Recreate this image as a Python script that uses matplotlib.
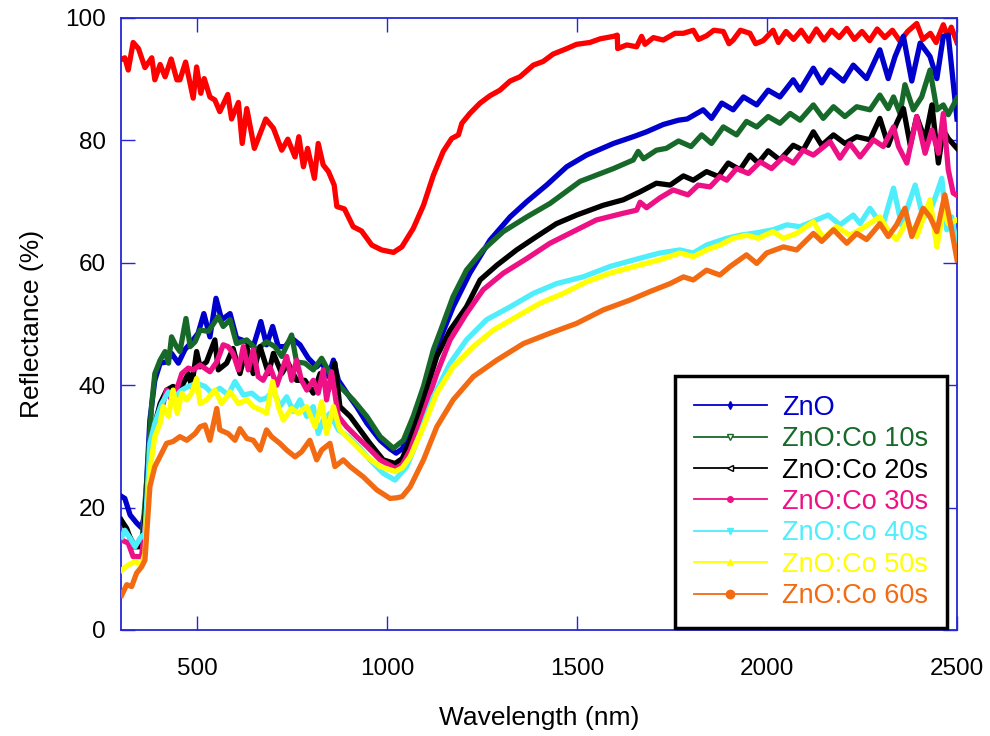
import matplotlib
matplotlib.use("Agg")
import matplotlib.pyplot as plt
from matplotlib.lines import Line2D

plt.rcParams['font.family'] = ['Liberation Sans', 'DejaVu Sans']

# ---------------- data (wavelength nm, reflectance %) ----------------
red_wl = [297, 310, 319, 332, 346, 363, 381, 389, 403, 416, 432, 447, 455, 470, 490, 499, 510, 519,
          534, 547, 560, 581, 591, 609, 619, 631, 651, 681, 701, 723, 739, 758, 768, 780, 791, 809,
          819, 832, 846, 861, 868, 888, 911, 933, 960, 986, 1017, 1039, 1069, 1096, 1122, 1148, 1170,
          1188, 1197, 1218, 1245, 1271, 1297, 1324, 1350, 1385, 1411, 1437, 1473, 1499, 1534, 1561,
          1596, 1606, 1607, 1631, 1657, 1670, 1679, 1701, 1727, 1758, 1780, 1806, 1820, 1841, 1860,
          1885, 1900, 1911, 1930, 1955, 1970, 1990, 2016, 2030, 2050, 2070, 2090, 2110, 2130, 2150,
          2170, 2190, 2210, 2230, 2250, 2270, 2290, 2310, 2330, 2350, 2370, 2394, 2410, 2430, 2445,
          2464, 2475, 2485, 2500]
red_r = [93.1, 93.5, 91.5, 96.0, 95.0, 91.9, 93.5, 89.9, 92.4, 90.4, 93.3, 89.9, 89.9, 92.8, 86.9,
         92.0, 87.7, 90.1, 87.1, 86.6, 84.7, 87.5, 83.5, 86.2, 79.5, 85.2, 78.7, 83.5, 82.0, 78.4,
         80.2, 77.3, 80.6, 75.7, 78.7, 73.8, 79.5, 76.0, 74.9, 72.7, 69.2, 68.8, 65.9, 65.2, 62.9,
         62.1, 61.7, 62.6, 65.6, 69.4, 74.3, 78.2, 80.3, 80.9, 82.8, 84.4, 86.1, 87.3, 88.2, 89.7,
         90.4, 92.3, 92.9, 94.1, 95.0, 95.7, 96.0, 96.6, 97.0, 97.2, 95.0, 95.6, 95.3, 97.0, 95.7,
         96.8, 96.4, 97.5, 97.5, 98.0, 96.5, 97.1, 98.0, 97.8, 95.8, 96.4, 98.0, 97.5, 95.8, 96.3,
         98.0, 96.0, 97.8, 96.5, 98.0, 96.2, 98.2, 96.4, 98.0, 96.8, 98.3, 96.5, 97.8, 96.3, 98.2,
         96.8, 98.0, 96.2, 97.8, 99.1, 96.5, 97.5, 96.0, 98.9, 97.0, 98.5, 96.0]

zno_wl = [302, 310, 324, 341, 354, 363, 376, 389, 403, 420, 433, 451, 468, 486, 503, 518, 534, 550,
          565, 587, 604, 631, 648, 668, 683, 699, 714, 732, 749, 771, 793, 815, 828, 846, 859, 872,
          898, 920, 947, 982, 1008, 1024, 1040, 1061, 1087, 1113, 1139, 1174, 1218, 1271, 1324, 1368,
          1420, 1473, 1525, 1596, 1648, 1683, 1727, 1767, 1790, 1832, 1854, 1881, 1911, 1938, 1973,
          2003, 2034, 2069, 2087, 2122, 2144, 2166, 2201, 2227, 2262, 2297, 2319, 2337, 2359, 2381,
          2403, 2429, 2447, 2464, 2477, 2500]
zno_r = [21.8, 21.5, 18.8, 17.5, 16.7, 19.1, 34.3, 40.8, 43.6, 43.8, 45.2, 43.6, 45.8, 47.1, 48.5,
         51.7, 47.9, 54.2, 50.7, 51.7, 47.7, 47.1, 46.3, 50.4, 46.6, 49.6, 46.3, 46.3, 47.7, 46.6,
         44.4, 43.0, 43.8, 41.4, 44.1, 40.8, 38.4, 36.5, 33.8, 31.0, 29.6, 28.9, 29.6, 32.1, 36.5,
         41.9, 47.4, 52.8, 58.3, 63.7, 67.5, 70.0, 72.7, 75.7, 77.6, 79.5, 80.6, 81.4, 82.6, 83.3,
         83.5, 85.0, 83.6, 86.1, 85.0, 87.1, 85.8, 88.2, 87.1, 89.9, 88.2, 91.8, 89.4, 91.5, 89.7,
         92.3, 90.1, 94.8, 90.1, 93.7, 97.0, 89.7, 95.9, 93.7, 90.1, 97.0, 97.2, 83.5]

co10_wl = [300, 332, 354, 368, 381, 389, 403, 416, 425, 433, 446, 455, 471, 482, 495, 508, 530, 556,
           569, 587, 604, 631, 657, 683, 705, 723, 749, 762, 784, 806, 828, 850, 876, 911, 947, 982,
           1017, 1043, 1069, 1096, 1122, 1148, 1174, 1209, 1253, 1306, 1368, 1429, 1508, 1596, 1648,
           1661, 1675, 1709, 1735, 1767, 1800, 1828, 1854, 1885, 1920, 1946, 1973, 2003, 2034, 2061,
           2087, 2122, 2148, 2175, 2205, 2236, 2271, 2297, 2319, 2333, 2350, 2363, 2385, 2407, 2429,
           2447, 2464, 2477, 2500]
co10_r = [18.0, 14.2, 13.6, 24.5, 37.0, 41.9, 44.1, 45.5, 43.6, 47.9, 46.3, 45.5, 50.9, 46.3, 47.1,
          49.0, 48.8, 51.2, 49.6, 50.7, 46.8, 47.4, 45.8, 47.1, 46.3, 44.7, 48.2, 43.8, 43.6, 42.5,
          44.4, 41.9, 39.8, 37.6, 34.9, 31.6, 29.7, 31.0, 34.9, 39.8, 45.8, 50.1, 54.5, 58.8, 62.1,
          65.1, 67.5, 69.7, 73.3, 75.4, 76.8, 78.2, 77.0, 78.4, 78.7, 79.9, 79.0, 80.9, 79.5, 82.2,
          80.9, 83.1, 82.2, 83.9, 82.8, 84.4, 83.3, 85.8, 83.6, 85.5, 83.9, 85.5, 85.0, 87.4, 85.2,
          87.1, 84.4, 89.1, 85.0, 87.1, 91.5, 85.0, 85.8, 84.2, 86.9]

co20_wl = [300, 315, 332, 358, 372, 385, 403, 420, 437, 455, 477, 486, 499, 508, 525, 547, 556, 578,
           595, 613, 631, 648, 666, 688, 701, 723, 740, 762, 784, 806, 824, 846, 863, 876, 903, 929,
           955, 990, 1021, 1040, 1061, 1096, 1131, 1166, 1209, 1245, 1289, 1341, 1394, 1446, 1499,
           1569, 1622, 1666, 1709, 1745, 1780, 1806, 1841, 1872, 1898, 1929, 1955, 1977, 2003, 2034,
           2069, 2095, 2122, 2144, 2175, 2205, 2236, 2271, 2297, 2319, 2341, 2359, 2377, 2394, 2416,
           2434, 2451, 2464, 2477, 2500]
co20_r = [18.0, 16.6, 13.6, 13.6, 26.7, 32.7, 37.0, 39.2, 39.8, 39.2, 41.9, 39.8, 45.5, 43.0, 43.8,
          47.4, 42.5, 43.6, 46.0, 41.9, 46.3, 41.9, 46.3, 41.9, 45.2, 41.9, 43.6, 40.8, 40.8, 38.7,
          41.9, 39.2, 43.6, 36.5, 34.9, 32.7, 30.5, 27.8, 27.2, 28.0, 31.0, 37.6, 44.7, 49.0, 52.8,
          57.2, 59.6, 62.1, 64.3, 66.4, 67.8, 69.4, 70.3, 71.6, 73.0, 72.7, 74.2, 73.5, 74.9, 74.1,
          76.3, 75.2, 77.6, 76.3, 78.3, 76.8, 79.2, 78.4, 81.4, 79.2, 80.9, 79.5, 80.6, 80.1, 83.6,
          79.2, 82.8, 85.2, 79.2, 83.9, 80.1, 85.8, 76.3, 81.7, 80.3, 78.7]

co30_wl = [302, 319, 332, 354, 368, 381, 394, 411, 420, 433, 446, 460, 477, 490, 508, 534, 552, 569,
           582, 595, 609, 622, 635, 648, 661, 674, 692, 710, 736, 749, 762, 775, 789, 806, 819, 832,
           841, 854, 872, 894, 920, 947, 982, 1022, 1040, 1061, 1096, 1131, 1166, 1209, 1253, 1306,
           1368, 1429, 1490, 1551, 1622, 1657, 1666, 1683, 1718, 1753, 1792, 1819, 1850, 1876, 1894,
           1920, 1951, 1982, 2012, 2043, 2069, 2095, 2122, 2166, 2192, 2218, 2245, 2280, 2306, 2333,
           2346, 2368, 2394, 2416, 2434, 2451, 2464, 2477, 2490, 2500]
co30_r = [14.7, 14.2, 12.0, 12.0, 19.1, 31.0, 34.3, 37.0, 39.2, 37.6, 39.2, 41.9, 42.8, 42.5, 43.3,
          42.2, 43.8, 46.6, 46.3, 45.2, 42.5, 46.3, 42.5, 45.8, 41.4, 40.8, 43.0, 40.0, 44.7, 40.8,
          44.1, 40.8, 39.2, 40.8, 38.7, 42.5, 37.6, 42.2, 34.9, 33.2, 31.6, 30.0, 27.8, 26.4, 27.0,
          29.4, 35.4, 41.9, 47.4, 51.7, 55.6, 58.3, 60.7, 63.2, 65.1, 67.0, 68.1, 68.6, 69.9, 69.0,
          70.6, 71.9, 71.1, 72.7, 72.4, 74.1, 73.5, 75.4, 74.6, 76.5, 75.4, 77.3, 76.3, 78.4, 77.6,
          79.8, 77.1, 79.5, 77.3, 80.1, 79.0, 82.2, 79.0, 76.3, 83.9, 77.9, 81.7, 77.9, 84.4, 75.2,
          71.4, 71.0]

co40_wl = [302, 310, 324, 337, 350, 363, 376, 389, 407, 425, 442, 460, 477, 499, 521, 539, 560, 582,
           600, 622, 644, 666, 683, 701, 718, 736, 754, 771, 789, 806, 819, 832, 850, 872, 898, 929,
           955, 990, 1021, 1052, 1087, 1122, 1166, 1209, 1262, 1324, 1385, 1446, 1516, 1587, 1657,
           1718, 1771, 1806, 1841, 1894, 1929, 1973, 2016, 2052, 2087, 2130, 2161, 2192, 2227, 2245,
           2271, 2289, 2306, 2333, 2354, 2390, 2411, 2429, 2447, 2460, 2473, 2486, 2500]
co40_r = [15.2, 16.3, 15.0, 13.6, 15.0, 15.8, 30.5, 33.8, 37.0, 38.9, 38.1, 39.2, 39.8, 40.3, 39.8,
          38.7, 39.5, 38.4, 40.6, 38.4, 38.7, 37.6, 37.9, 39.2, 36.5, 38.1, 35.7, 37.6, 34.9, 36.5,
          32.1, 34.3, 35.4, 32.7, 31.6, 29.7, 27.8, 25.6, 24.5, 26.7, 32.1, 38.1, 43.6, 47.4, 50.7,
          52.8, 55.0, 56.6, 57.7, 59.4, 60.6, 61.6, 62.1, 61.6, 62.9, 64.0, 64.5, 64.9, 65.4, 66.2,
          65.9, 67.0, 67.8, 66.2, 67.8, 66.4, 68.9, 67.3, 66.4, 72.2, 66.2, 72.7, 67.3, 68.4, 71.4,
          73.8, 65.4, 67.5, 62.6]

co50_wl = [302, 319, 337, 354, 363, 376, 389, 403, 411, 425, 437, 448, 460, 473, 486, 499, 508, 525,
           547, 565, 587, 609, 631, 648, 670, 683, 699, 714, 727, 749, 767, 789, 811, 828, 841, 859,
           876, 894, 920, 947, 982, 1022, 1040, 1061, 1096, 1131, 1174, 1227, 1280, 1341, 1403, 1464,
           1525, 1587, 1657, 1718, 1771, 1806, 1841, 1876, 1911, 1946, 1977, 2016, 2043, 2078, 2122,
           2148, 2183, 2218, 2245, 2297, 2324, 2341, 2368, 2394, 2429, 2447, 2464, 2477, 2500]
co50_r = [9.8, 10.6, 11.2, 10.6, 12.5, 26.1, 31.6, 33.8, 36.5, 34.9, 39.2, 35.4, 38.7, 37.6, 38.7,
          41.1, 37.0, 37.6, 39.2, 37.0, 38.9, 37.0, 37.6, 36.5, 35.9, 35.4, 40.6, 36.5, 34.3, 36.2,
          35.4, 36.5, 33.2, 37.3, 32.1, 36.5, 32.7, 31.6, 30.0, 28.3, 26.7, 25.9, 26.5, 28.3, 33.2,
          38.7, 43.0, 46.3, 49.0, 51.2, 53.4, 55.0, 56.9, 58.3, 59.5, 60.5, 61.6, 61.0, 62.1, 62.9,
          64.0, 64.5, 64.0, 65.1, 64.0, 64.8, 66.7, 64.0, 65.9, 64.5, 65.4, 67.5, 64.8, 63.8, 66.7,
          64.3, 70.3, 62.6, 68.6, 66.4, 67.0]

co60_wl = [302, 315, 328, 341, 354, 363, 376, 389, 407, 420, 437, 455, 473, 495, 508, 521, 534, 552,
           560, 582, 600, 613, 631, 648, 666, 683, 696, 718, 736, 758, 775, 797, 815, 828, 850, 863,
           885, 903, 938, 973, 1008, 1026, 1040, 1061, 1096, 1131, 1174, 1227, 1289, 1359, 1429, 1499,
           1569, 1639, 1692, 1745, 1780, 1806, 1841, 1876, 1903, 1946, 1973, 1999, 2043, 2078, 2122,
           2144, 2175, 2210, 2236, 2262, 2280, 2297, 2319, 2341, 2363, 2381, 2411, 2429, 2447, 2468,
           2482, 2500]
co60_r = [5.7, 7.4, 7.1, 9.3, 10.3, 11.4, 23.4, 26.7, 28.9, 30.5, 30.8, 31.6, 31.0, 32.1, 33.2,
          33.5, 31.0, 36.2, 32.7, 32.1, 31.0, 32.9, 31.3, 31.0, 29.4, 32.7, 31.6, 30.5, 29.4, 28.3,
          29.1, 31.0, 27.8, 29.4, 30.5, 26.7, 27.8, 26.7, 25.0, 22.9, 21.5, 21.6, 21.8, 23.4, 27.8,
          33.2, 37.6, 41.4, 44.1, 46.8, 48.5, 50.1, 52.3, 53.9, 55.3, 56.6, 57.7, 57.2, 58.8, 58.0,
          59.4, 61.3, 59.9, 61.6, 62.6, 62.1, 64.8, 63.5, 65.4, 63.2, 64.8, 63.8, 65.1, 66.4, 64.3,
          66.2, 68.9, 64.3, 68.9, 67.5, 65.1, 71.1, 66.7, 60.5]

labels = ["ZnO", "ZnO:Co 10s", "ZnO:Co 20s", "ZnO:Co 30s", "ZnO:Co 40s", "ZnO:Co 50s", "ZnO:Co 60s"]
colors = ["#0000cc", "#17692a", "#000000", "#ee1186", "#4eeefc", "#ffff00", "#f26b12"]
markers = ["d", "v", "<", "o", "v", "^", "o"]
mfaces = ["#0000cc", "white", "white", "#ee1186", "#4eeefc", "#ffff00", "#f26b12"]
msizes = [4, 5, 5, 4, 5, 5, 6]

xticks = [500, 1000, 1500, 2000, 2500]
yticks = [0, 20, 40, 60, 80, 100]

series = [(zno_wl, zno_r), (co10_wl, co10_r), (co20_wl, co20_r), (co30_wl, co30_r),
          (co40_wl, co40_r), (co50_wl, co50_r), (co60_wl, co60_r)]

# ---------------- figure ----------------
fig = plt.figure(figsize=(9.9, 7.36), dpi=100)
ax = fig.add_axes([121 / 990, 1 - 630 / 736, 836 / 990, 612 / 736])

ax.plot(red_wl, red_r, color="#ff0000", lw=3.8, solid_joinstyle="round", zorder=2)
for (wl, r), c in zip(series, colors):
    ax.plot(wl, r, color=c, lw=3.8, solid_joinstyle="round", zorder=3)

ax.set_xlim(300, 2500)
ax.set_ylim(0, 100)
ax.set_xticks(xticks)
ax.set_yticks(yticks)

spine_col = "#2626d9"
for s in ax.spines.values():
    s.set_color(spine_col)
    s.set_linewidth(1.3)
ax.tick_params(axis="both", direction="in", length=10, width=1.0, color=spine_col,
               top=True, right=True, labelsize=17.5, labelcolor="black")
ax.tick_params(axis="x", pad=20)
ax.tick_params(axis="y", pad=11)

ax.set_xlabel("Wavelength (nm)", fontsize=19, labelpad=19)
ax.set_ylabel("Reflectance (%)", fontsize=19, labelpad=15)

handles = [Line2D([0], [0], color=c, lw=1.3, marker=m, markersize=ms,
                  markerfacecolor=mf, markeredgecolor=c, markeredgewidth=1.0)
           for c, m, mf, ms in zip(colors, markers, mfaces, msizes)]
leg = ax.legend(handles, labels, loc="lower right", bbox_to_anchor=(0.988, 0.003),
                fontsize=19.5, frameon=True, fancybox=False, shadow=False,
                handlelength=2.7, handletextpad=0.55, labelspacing=0.2,
                borderpad=0.7, borderaxespad=0.0, markerscale=1.0)
fr = leg.get_frame()
fr.set_edgecolor("black")
fr.set_linewidth(2.5)
fr.set_facecolor("white")
fr.set_alpha(1.0)
for t, c in zip(leg.get_texts(), colors):
    t.set_color(c)
leg.set_zorder(10)

fig.savefig("out.png", dpi=100)
